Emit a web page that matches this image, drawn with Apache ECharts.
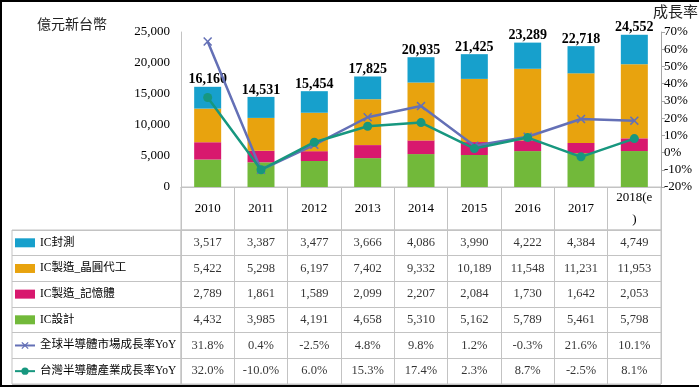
<!DOCTYPE html>
<html><head><meta charset="utf-8">
<script src="https://cdn.jsdelivr.net/npm/echarts@6/dist/echarts.min.js"></script>
<style>html,body{margin:0;padding:0;background:#fff}#c{width:699px;height:388px}</style>
</head><body><div id="c"></div>
<script>
const years = ['2010','2011','2012','2013','2014','2015','2016','2017','2018(e\n)'];
const icPackTest = [3517,3387,3477,3666,4086,3990,4222,4384,4749];
const icFoundry = [5422,5298,6197,7402,9332,10189,11548,11231,11953];
const icMemory = [2789,1861,1589,2099,2207,2084,1730,1642,2053];
const icDesign = [4432,3985,4191,4658,5310,5162,5789,5461,5798];
const totals = [16160,14531,15454,17825,20935,21425,23289,22718,24552];
const globalYoYTable = [31.8,0.4,-2.5,4.8,9.8,1.2,-0.3,21.6,10.1];
const globalYoYPlotted = [64.5,-10,4.5,20.5,27,4,9.2,19.5,18.5];
const taiwanYoY = [32.0,-10.0,6.0,15.3,17.4,2.3,8.7,-2.5,8.1];
const rowNames = ['IC封測','IC製造_晶圓代工','IC製造_記憶體','IC設計','全球半導體市場成長率YoY','台灣半導體產業成長率YoY'];

const C = {pack:'#17a0cc', fab:'#e8a30e', mem:'#d8186e', des:'#72b93a', glob:'#6470b6', tw:'#17977f'};
const serif = "'Liberation Serif','Noto Sans CJK TC',serif";
const gridLine = '#c3c3c3';

function fmt(n){return n.toLocaleString('en-US');}
function pct(n){return n.toFixed(1)+'%';}

const tableRows = [icPackTest.map(fmt), icFoundry.map(fmt), icMemory.map(fmt), icDesign.map(fmt), globalYoYTable.map(pct), taiwanYoY.map(pct)];
const cellData = [];
tableRows.forEach((row,r)=>row.forEach((t,c)=>cellData.push({value:[c,r], name:t})));

const xSymbol = 'path://M0,1.2L1.2,0L5,3.8L8.8,0L10,1.2L6.2,5L10,8.8L8.8,10L5,6.2L1.2,10L0,8.8L3.8,5Z';

const chart = echarts.init(document.getElementById('c'));
chart.setOption({
  animation:false,
  backgroundColor:'#fff',
  textStyle:{fontFamily:serif},
  graphic:[
    {type:'rect', shape:{x:1,y:1,width:700,height:385}, style:{fill:'none',stroke:'#000',lineWidth:2}, silent:true, z:100},
    {type:'text', left:37, top:17, style:{text:'億元新台幣', font:"14px 'Noto Sans CJK TC'", fill:'#222'}},
    {type:'text', left:653, top:4, style:{text:'成長率', font:"15px 'Noto Sans CJK TC'", fill:'#222'}}
  ],
  legend:{
    orient:'vertical', left:14, top:234.8, padding:0, itemGap:9.67, itemWidth:20, itemHeight:9,
    textStyle:{fontFamily:serif, fontSize:11.5, lineHeight:16, color:'#000'},
    data:[{name:rowNames[0],icon:'rect'},{name:rowNames[1],icon:'rect'},{name:rowNames[2],icon:'rect'},{name:rowNames[3],icon:'rect'},{name:rowNames[4]},{name:rowNames[5]}],
    selectedMode:false
  },
  grid:[
    {left:181,right:38,top:32,height:155},
    {left:181,right:38,top:187,height:43,show:true,borderColor:gridLine,borderWidth:1},
    {left:181,right:38,top:230,height:154,show:true,borderColor:gridLine,borderWidth:1},
    {left:12,width:169,top:230,height:154,show:true,borderColor:gridLine,borderWidth:1}
  ],
  xAxis:[
    {type:'category',gridIndex:0,data:years,axisLine:{lineStyle:{color:gridLine}},axisTick:{show:false},
     axisLabel:{color:'#000',fontFamily:serif,fontSize:13,margin:21.5,verticalAlign:'middle',lineHeight:22,interval:0}},
    {type:'category',gridIndex:1,data:years,axisLine:{show:false},axisTick:{show:false},axisLabel:{show:false},
     splitLine:{show:true,interval:0,lineStyle:{color:gridLine}}},
    {type:'category',gridIndex:2,data:years,axisLine:{show:false},axisTick:{show:false},axisLabel:{show:false},
     splitLine:{show:true,interval:0,lineStyle:{color:gridLine}}},
    {type:'value',gridIndex:3,show:false}
  ],
  yAxis:[
    {type:'value',gridIndex:0,min:0,max:25000,interval:5000,axisLine:{show:true,lineStyle:{color:gridLine}},axisTick:{show:false},
     splitLine:{show:false},axisLabel:{color:'#000',fontFamily:serif,fontSize:13,margin:11,formatter:v=>fmt(v)}},
    {type:'value',gridIndex:0,position:'right',min:-20,max:70,interval:10,axisLine:{show:true,lineStyle:{color:'#a6a6a6'}},
     axisTick:{show:true,length:4,lineStyle:{color:'#a6a6a6'}},splitLine:{show:false},
     axisLabel:{color:'#000',fontFamily:serif,fontSize:13,margin:3,formatter:v=>v+'%'}},
    {type:'value',gridIndex:1,show:false},
    {type:'category',gridIndex:2,data:rowNames,inverse:true,axisLine:{show:false},axisTick:{show:false},axisLabel:{show:false},
     splitLine:{show:true,interval:0,lineStyle:{color:gridLine}}},
    {type:'category',gridIndex:3,data:rowNames,inverse:true,axisLine:{show:false},axisTick:{show:false},axisLabel:{show:false},
     splitLine:{show:true,interval:0,lineStyle:{color:gridLine}}}
  ],
  series:[
    {name:rowNames[3],type:'bar',stack:'t',data:icDesign,barWidth:27,itemStyle:{color:C.des}},
    {name:rowNames[2],type:'bar',stack:'t',data:icMemory,barWidth:27,itemStyle:{color:C.mem}},
    {name:rowNames[1],type:'bar',stack:'t',data:icFoundry,barWidth:27,itemStyle:{color:C.fab}},
    {name:rowNames[0],type:'bar',stack:'t',data:icPackTest,barWidth:27,itemStyle:{color:C.pack},
     label:{show:true,position:'top',distance:0,fontFamily:serif,fontWeight:'bold',fontSize:14,color:'#000',
       formatter:p=>fmt(totals[p.dataIndex])}},
    {name:rowNames[4],type:'line',yAxisIndex:1,data:globalYoYPlotted,symbol:xSymbol,symbolSize:9,
     lineStyle:{color:C.glob,width:2.5},itemStyle:{color:C.glob},z:5},
    {name:rowNames[5],type:'line',yAxisIndex:1,data:taiwanYoY,symbol:'circle',symbolSize:9,
     lineStyle:{color:C.tw,width:2.5},itemStyle:{color:C.tw},z:6},
    {name:'table',type:'scatter',xAxisIndex:2,yAxisIndex:3,data:cellData,symbol:'circle',symbolSize:2,
     itemStyle:{color:'rgba(255,255,255,0)'},silent:true,z:10,
     label:{show:true,position:'inside',formatter:'{b}',fontFamily:serif,fontSize:12.5,color:'#000'}}
  ]
});
</script></body></html>
